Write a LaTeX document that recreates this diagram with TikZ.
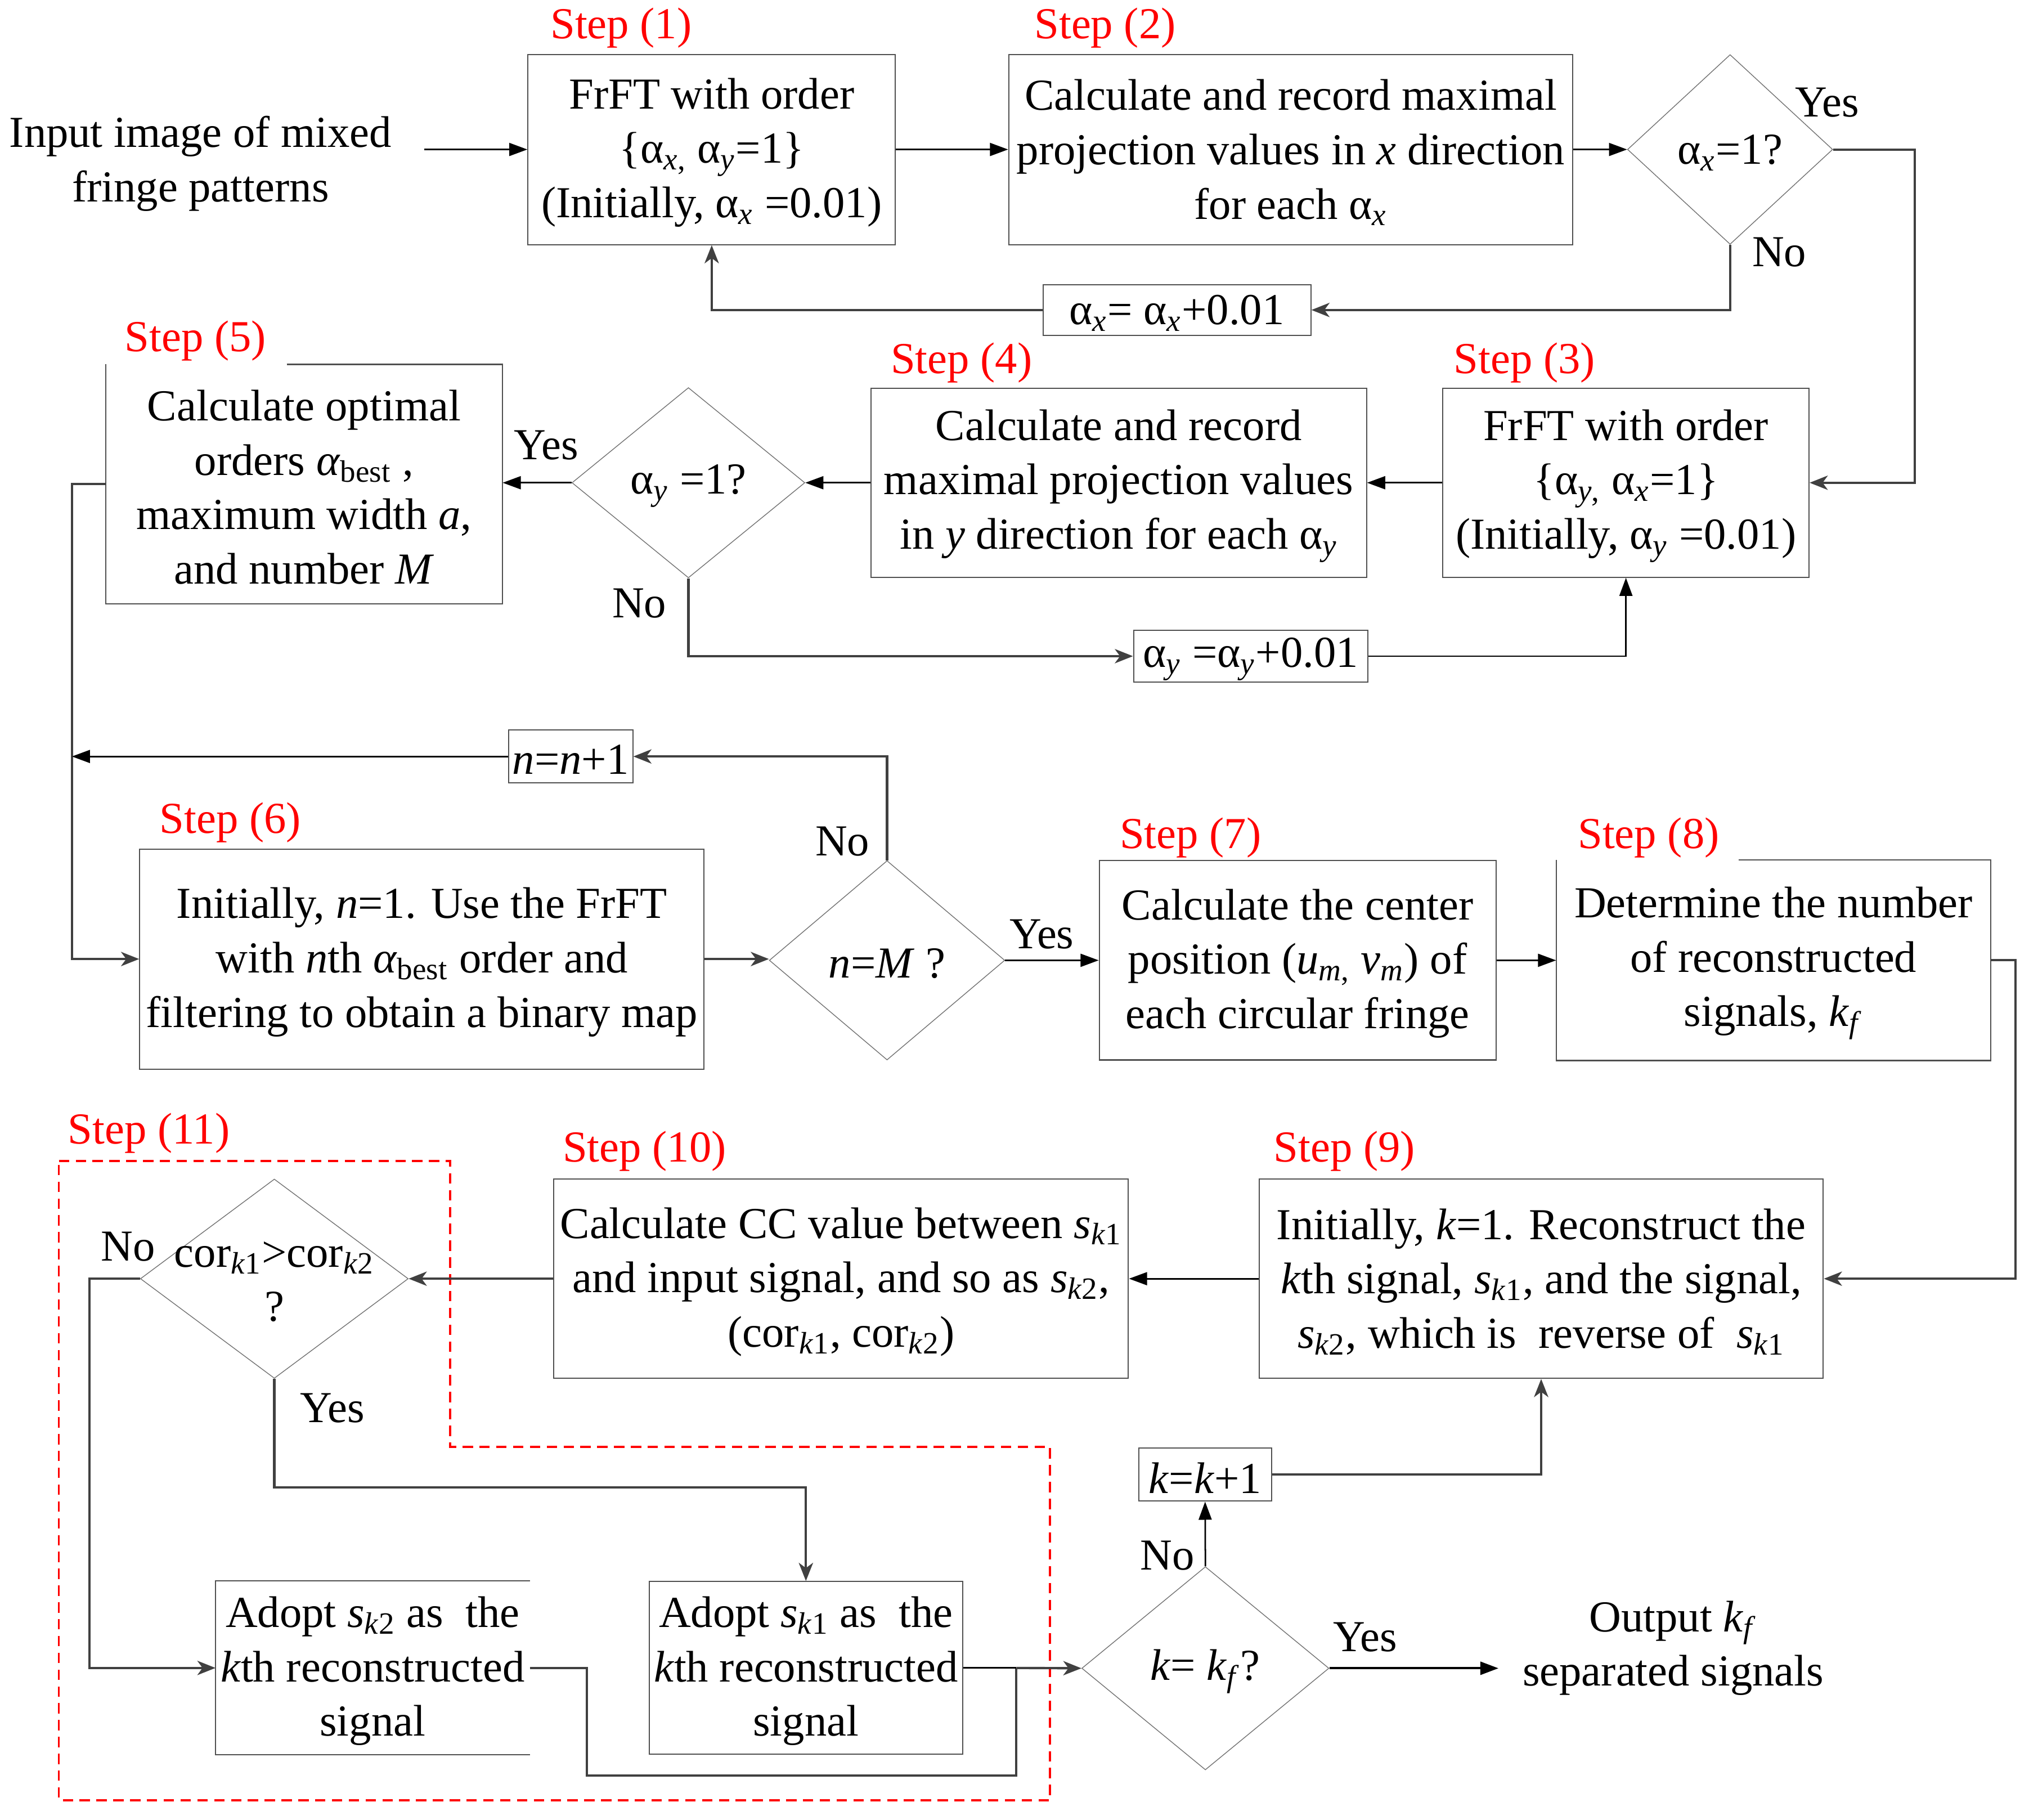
\documentclass[tikz,border=0pt]{standalone}
\usepackage{fontspec}
\setmainfont{Liberation Serif}
\usetikzlibrary{arrows.meta,shapes.geometric,calc}
\definecolor{lg}{HTML}{404040}
\definecolor{bx}{HTML}{505050}
\newcommand\mysb[1]{\textsubscript{#1}}
\newcommand\myit[1]{\textit{#1}}
\newcommand\mainfs{\fontsize{17.1pt}{21pt}\selectfont}
\begin{document}
\begin{tikzpicture}[x=0.5pt,y=-0.5pt,
 box/.style={draw=bx, line width=0.45pt, rectangle, inner sep=0pt},
 boxnd/.style={box, draw=none},
 boxedge/.style={draw=bx, line width=0.45pt},
 dia/.style={draw=black!55, line width=0.3pt, shape=diamond, inner sep=0pt},
 txt/.style={inner sep=0pt, align=center, font=\mainfs},
 btx/.style={txt, yshift=-1.2pt},
 steplbl/.style={btx, text=red},
 gline/.style={draw=lg, line width=0.9pt},
 bline/.style={draw=black, line width=0.6pt},
 gtip/.style={-{Stealth[length=7pt,width=5.5pt,inset=2pt]}},
 btip/.style={-{Triangle[length=7pt,width=5pt]}},
]
\fill[white] (0,0) rectangle (1568,1406);
\useasboundingbox (0,0) rectangle (1568,1406);

% row 1
\node[btx] (inp) at (155,124) {Input image of mixed\\fringe patterns};
\coordinate (inR) at (328,115.5);
\node[box, minimum width=142pt, minimum height=73.5pt] (b1) at (550,115.5) {};
\node[btx] (b1t) at (b1) {FrFT with order\\\{α\mysb{\myit{x},} α\mysb{\myit{y}}=1\}\\(Initially, α\mysb{\myit{x}} =0.01)};
\node[steplbl] (s1) at (480,19) {Step (1)};
\node[box, minimum width=218pt, minimum height=73.5pt] (b2) at (997.5,115.5) {};
\node[btx] (b2t) at (b2) {Calculate and record maximal\\projection values in \myit{x} direction\\for each α\mysb{\myit{x}}};
\node[steplbl] (s2) at (854,19) {Step (2)};
\node[dia, minimum width=79.3pt, minimum height=73.3pt] (d1) at (1337,115.5) {};
\node[btx] (d1t) at (1337,115.5) {α\mysb{\myit{x}}=1?};
\node[txt] (y1) at (1412,79) {Yes};
\node[txt] (n1) at (1375,195) {No};
\node[box, minimum width=103.5pt, minimum height=19.5pt] (ax) at (909.5,239.5) {};
\node[btx] (axt) at (ax) {α\mysb{\myit{x}}= α\mysb{\myit{x}}+0.01};

% row 2
\node[box, minimum width=141.5pt, minimum height=73pt] (b3) at (1256.5,373) {};
\node[btx] (b3t) at (b3) {FrFT with order\\\{α\mysb{\myit{y},} α\mysb{\myit{x}}=1\}\\(Initially, α\mysb{\myit{y}} =0.01)};
\node[steplbl] (s3) at (1178,278) {Step (3)};
\node[box, minimum width=191.5pt, minimum height=73pt] (b4) at (864.5,373) {};
\node[btx] (b4t) at (b4) {Calculate and record\\maximal projection values\\in \myit{y} direction for each α\mysb{\myit{y}}};
\node[steplbl] (s4) at (743,278) {Step (4)};
\node[dia, minimum width=90pt, minimum height=73.5pt] (d2) at (532,373) {};
\node[btx] (d2t) at (532,373) {α\mysb{\myit{y}} =1?};
\node[txt] (y2) at (422,344) {Yes};
\node[txt] (n2) at (494,466) {No};
\node[box, minimum width=90.5pt, minimum height=20pt] (ay) at (966.5,507) {};
\node[btx] (ayt) at (ay) {α\mysb{\myit{y}} =α\mysb{\myit{y}}+0.01};
\node[boxnd, minimum width=153pt, minimum height=92pt] (b5) at (235,374) {};
\node[btx] (b5t) at (b5) {Calculate optimal\\orders \myit{α}\mysb{best} ,\\maximum width \myit{a},\\and number \myit{M}};
\node[steplbl] (s5) at (151,261) {Step (5)};
\draw[boxedge] ($(b5.north west)+(140,0)$) -- (b5.north east) -- (b5.south east) -- (b5.south west) -- (b5.north west);

% row 3
\node[box, minimum width=48pt, minimum height=20.5pt] (nb) at (441,584.5) {};
\node[btx] (nbt) at (nb) {\myit{n}=\myit{n}+1};
\node[box, minimum width=218pt, minimum height=85pt] (b6) at (326,741) {};
\node[btx] (b6t) at (b6) {Initially, \myit{n}=1. Use the FrFT\\with \myit{n}th \myit{α}\mysb{best} order and\\filtering to obtain a binary map};
\node[steplbl] (s6) at (178,633) {Step (6)};
\node[dia, minimum width=91pt, minimum height=77pt] (d3) at (685.5,742) {};
\node[btx] (d3t) at (685.5,742) {\myit{n}=\myit{M} ?};
\node[txt] (n3) at (651,650) {No};
\node[txt] (y3) at (805,722) {Yes};
\node[box, minimum width=153.25pt, minimum height=77pt] (b7) at (1002.75,742) {};
\node[btx] (b7t) at (b7) {Calculate the center\\position (\myit{u}\mysb{\myit{m},} \myit{v}\mysb{\myit{m}}) of\\each circular fringe};
\node[steplbl] (s7) at (920,645) {Step (7)};
\node[boxnd, minimum width=167.5pt, minimum height=77pt] (b8) at (1370.5,742) {};
\node[btx] (b8t) at (b8) {Determine the number\\of reconstructed\\signals, \myit{k}\mysb{\myit{f}}};
\node[steplbl] (s8) at (1274,645) {Step (8)};
\draw[boxedge] ($(b8.north west)+(141,0)$) -- (b8.north east) -- (b8.south east) -- (b8.south west) -- (b8.north west);

% row 4
\node[box, minimum width=218pt, minimum height=77pt] (b9) at (1191,988) {};
\node[btx] (b9t) at (b9) {Initially, \myit{k}=1. Reconstruct the\\\myit{k}th signal, \myit{s}\mysb{\myit{k}1}, and the signal,\\\myit{s}\mysb{\myit{k}2}, which is\ \ reverse of\ \ \myit{s}\mysb{\myit{k}1}};
\node[steplbl] (s9) at (1039,887) {Step (9)};
\node[box, minimum width=222pt, minimum height=77pt] (b10) at (650,988) {};
\node[btx] (b10t) at (b10) {Calculate CC value between \myit{s}\mysb{\myit{k}1}\\and input signal, and so as \myit{s}\mysb{\myit{k}2},\\(cor\mysb{\myit{k}1}, cor\mysb{\myit{k}2})};
\node[steplbl] (s10) at (498,887) {Step (10)};
\node[dia, minimum width=103.5pt, minimum height=77pt] (d4) at (212,988) {};
\node[btx] (d4t) at (212,988) {cor\mysb{\myit{k}1}>cor\mysb{\myit{k}2}\\?};
\node[txt] (n4) at (99,963) {No};
\node[txt] (y4) at (257,1088) {Yes};
\node[steplbl] (s11) at (115,873) {Step (11)};
\draw[red, line width=0.8pt, dash pattern=on 4pt off 2.5pt] (45.5,897) -- (348,897) -- (348,1118) -- (811.5,1118) -- (811.5,1391) -- (45.5,1391) -- cycle;

% row 5
\node[boxnd, minimum width=121pt, minimum height=66.75pt] (bA) at (288,1288.75) {};
\node[btx] (bAt) at (bA) {Adopt \myit{s}\mysb{\myit{k}2} as\ \ the\\\myit{k}th reconstructed\\signal};
\draw[boxedge] (bA.north east) -- (bA.north west) -- (bA.south west) -- (bA.south east);
\node[box, minimum width=121.2pt, minimum height=66.75pt] (bB) at (622.8,1288.75) {};
\node[btx] (bBt) at (bB) {Adopt \myit{s}\mysb{\myit{k}1} as\ \ the\\\myit{k}th reconstructed\\signal};
\node[dia, minimum width=95.5pt, minimum height=78.5pt] (d5) at (931.5,1289) {};
\node[btx] (d5t) at (931.5,1289) {\myit{k}= \myit{k}\mysb{\myit{f}}?};
\node[txt] (n5) at (902,1202) {No};
\node[txt] (y5) at (1055,1265) {Yes};
\node[box, minimum width=51.3pt, minimum height=20.4pt] (kb) at (931.3,1139.4) {};
\node[btx] (kbt) at (kb) {\myit{k}=\myit{k}+1};
\node[btx] (outp) at (1293,1271) {Output \myit{k}\mysb{\myit{f}}\\separated signals};
\coordinate (outL) at (1158,1289);

% connectors
\draw[bline, btip] (inR) -- (b1);
\draw[bline, btip] (b1) -- (b2);
\draw[bline, btip] (b2) -- (d1);
\draw[gline, gtip] (d1.east) -- ++(63,0) |- (b3.east);
\draw[gline, gtip] (d1.south) |- (ax.east);
\draw[gline, gtip] (ax.west) -| (b1.south);
\draw[bline, btip] (b3) -- (b4);
\draw[bline, btip] (b4) -- (d2);
\draw[bline, btip] (d2.west) -- (d2.west -| b5.east);
\draw[gline, gtip] (d2.south) |- (ay.west);
\draw[bline, btip] (ay.east) -| (b3.south);
\coordinate (vl) at ($(b5.west)+(-26,0)$);
\draw[gline, gtip] (b5.west) -- (vl) |- (b6.west);
\draw[gline, gtip] (d3.north) |- (nb.east);
\draw[bline, btip] (nb.west) -- (nb.west -| vl);
\draw[gline, gtip] (b6.east) -- (b6.east -| d3.west);
\draw[bline, btip] (d3) -- (b7);
\draw[bline, btip] (b7) -- (b8);
\draw[gline, gtip] (b8.east) -- ++(19,0) |- (b9.east);
\draw[bline, btip] (b9) -- (b10);
\draw[gline, gtip] (b10) -- (d4);
\draw[gline, gtip] (d4.west) -- ++(-39,0) |- (bA.west);
\draw[gline, gtip] (d4.south) -- ++(0,84) -| (bB.north);
\coordinate (jn) at ($(bB.east)+(41,0)$);
\draw[gline] (bA.east) -- ++(44,0) -- ++(0,83) -| (jn);
\draw[bline] (bB.east) -- (jn);
\draw[gline, gtip] (jn) -- (d5.west);
\draw[bline, btip] (d5.north) -- (kb.south);
\draw[gline, gtip] (kb.east) -| (b9.south);
\draw[bline, line width=0.9pt, btip] (d5.east) -- (outL);
\end{tikzpicture}
\end{document}
